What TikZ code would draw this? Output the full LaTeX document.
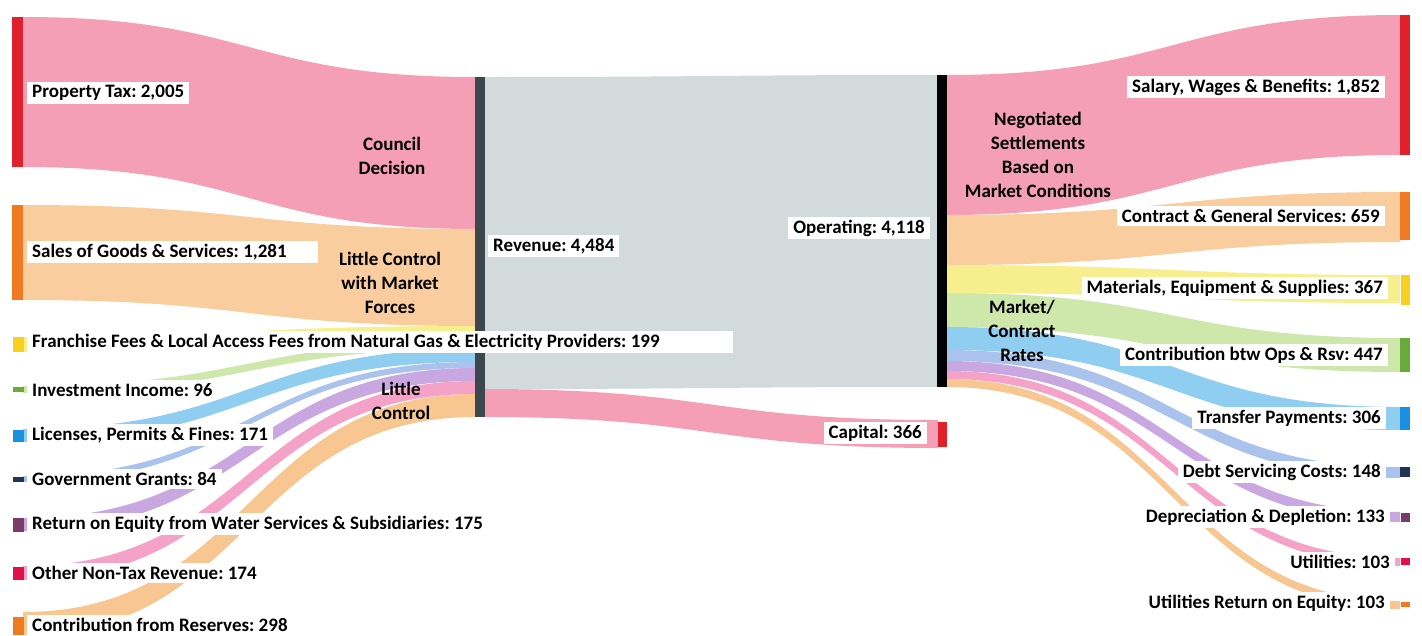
\documentclass[tikz,border=0pt]{standalone}
\usepackage{fontspec}
\setmainfont{Carlito}
\definecolor{cpink}{HTML}{F59FB7}
\definecolor{cpeach}{HTML}{F9CD9E}
\definecolor{cyellow}{HTML}{F7EE8E}
\definecolor{cgreen}{HTML}{CDE8AA}
\definecolor{csky}{HTML}{8FCEF0}
\definecolor{cperi}{HTML}{A9C3EC}
\definecolor{clav}{HTML}{C9A8E2}
\definecolor{cpinkb}{HTML}{F5A2C8}
\definecolor{corange}{HTML}{F8C690}
\definecolor{cgray}{HTML}{D2DADC}
\definecolor{bred}{HTML}{E0202A}
\definecolor{borange}{HTML}{F07A22}
\definecolor{byellow}{HTML}{F8D020}
\definecolor{bgreen}{HTML}{6AAA3A}
\definecolor{bblue}{HTML}{1A8FE0}
\definecolor{bnavy}{HTML}{1F3550}
\definecolor{bpurple}{HTML}{7A3A6A}
\definecolor{bcrimson}{HTML}{E0104A}
\definecolor{bslate}{HTML}{3D484E}
\newcommand{\lblfont}{\frenchspacing\bfseries\fontsize{19}{24}\selectfont}
\newcommand{\band}[7]{\fill[#7] (#1,#2) .. controls ({(#1+#4)/2},#2) and ({(#1+#4)/2},#5) .. (#4,#5) -- (#4,#6) .. controls ({(#1+#4)/2},#6) and ({(#1+#4)/2},#3) .. (#1,#3) -- cycle;}
\newcommand{\sbar}[5]{\fill[#5] (#1,#2) rectangle (#3,#4);}
\begin{document}
\begin{tikzpicture}[x=1pt,y=-1pt,
  lbl/.style={fill=white, inner xsep=5pt, inner ysep=3pt, font=\lblfont, text=black, anchor=west},
  rlbl/.style={lbl, anchor=east},
  mid/.style={align=center, font=\lblfont, text=black, inner sep=0pt}]
\useasboundingbox[fill=white] (0,0) rectangle (1422,635);
% left flows
\band{23}{17}{167}{475}{77}{229}{cpink}
\band{23}{205}{300}{475}{229}{326}{cpeach}
\band{23}{337}{352}{475}{326}{341}{cyellow}
\band{23}{386}{393}{475}{341}{349}{cgreen}
\band{23}{429}{442}{475}{349}{362}{csky}
\band{23}{476}{482}{475}{362}{368}{cperi}
\band{23}{518}{531}{475}{368}{381}{clav}
\band{23}{566}{580}{475}{381}{394}{cpinkb}
\band{23}{612}{635}{475}{394}{417}{corange}
% middle flows
\band{485}{77}{389}{937}{75}{387}{cgray}
\band{485}{389}{417}{938}{420}{448}{cpink}
% right flows
\band{947}{75}{215}{1400}{15}{155}{cpink}
\band{947}{215}{265}{1400}{192}{242}{cpeach}
\band{947}{265}{293}{1400}{275}{303}{cyellow}
\band{947}{293}{327}{1400}{338}{372}{cgreen}
\band{947}{327}{350}{1400}{407}{430}{csky}
\band{947}{350}{361}{1400}{467}{478}{cperi}
\band{947}{361}{371}{1400}{512}{522}{clav}
\band{947}{371}{379}{1400}{558}{566}{cpinkb}
\band{947}{379}{387}{1400}{601}{609}{corange}
% bars
\sbar{12}{17}{23}{167}{bred}
\sbar{12}{205}{23}{300}{borange}
\sbar{13}{337}{24}{352}{byellow}
\sbar{13}{387}{24}{392}{bgreen}
\sbar{13}{430}{24}{442}{bblue}
\sbar{13}{477}{24}{482}{bnavy}
\sbar{13}{518}{24}{532}{bpurple}
\sbar{13}{567}{24}{580}{bcrimson}
\sbar{13}{617}{24}{635}{borange}
\sbar{475}{77}{485}{417}{bslate}
\sbar{937}{75}{947}{387}{black}
\sbar{938}{422}{947}{447}{bred}
\sbar{1400}{15}{1410}{155}{bred}
\sbar{1400}{192}{1410}{240}{borange}
\sbar{1401}{275}{1410}{305}{byellow}
\sbar{1400}{338}{1410}{372}{bgreen}
\sbar{1400}{407}{1410}{430}{bblue}
\sbar{1400}{467}{1410}{477}{bnavy}
\sbar{1401}{513}{1410}{522}{bpurple}
\sbar{1401}{558}{1410}{565}{bcrimson}
\sbar{1401}{602}{1410}{607}{borange}
% left labels
\node[lbl] (ptax) at (27,93) {Property Tax: 2,005};
\node[lbl] (sales) at (27,252) {Sales of Goods \& Services: 1,281\hspace*{26pt}};
\node[lbl] (fran) at (27,342) {Franchise Fees \& Local Access Fees from Natural Gas \& Electricity Providers: 199\hspace*{68pt}};
\node[lbl] (inv) at (27,390) {Investment Income: 96};
\node[lbl] (lic) at (27,435) {Licenses, Permits \& Fines: 171};
\node[lbl] (gov) at (27,479) {Government Grants: 84};
\node[lbl] (roe) at (27,524) {Return on Equity from Water Services \& Subsidiaries: 175};
\node[lbl] (oth) at (27,573) {Other Non-Tax Revenue: 174};
\node[lbl] (res) at (27,625) {Contribution from Reserves: 298};
% centre labels
\node[lbl] (rev) at (488,246) {Revenue: 4,484};
\node[rlbl] (ops) at (930,228) {Operating: 4,118};
\node[rlbl] (cap) at (927,433) {Capital: 366};
% right labels
\node[rlbl] (sal) at (1385,87) {Salary, Wages \& Benefits: 1,852};
\node[rlbl] (con) at (1385,216) {Contract \& General Services: 659};
\node[rlbl] (mat) at (1388,288) {Materials, Equipment \& Supplies: 367};
\node[rlbl] (ctb) at (1388,355) {Contribution btw Ops \& Rsv: 447};
\node[rlbl] (tra) at (1386,418) {Transfer Payments: 306};
\node[rlbl] (dbt) at (1386,472) {Debt Servicing Costs: 148};
\node[rlbl] (dep) at (1390,517) {Depreciation \& Depletion: 133};
\node[rlbl] (utl) at (1395,562) {Utilities: 103};
\node[rlbl] (uroe) at (1390,603) {Utilities Return on Equity: 103};
% annotation labels
\node[mid] (council) at (392,156) {Council\\Decision};
\node[mid] (market) at (390,283) {Little Control\\with Market\\Forces};
\node[mid] (little) at (401,401) {Little\\Control};
\node[mid] (nego) at (1038,155) {Negotiated\\Settlements\\Based on\\Market Conditions};
\node[mid] (rates) at (1022,331) {Market/\\Contract\\Rates};
\end{tikzpicture}
\end{document}
